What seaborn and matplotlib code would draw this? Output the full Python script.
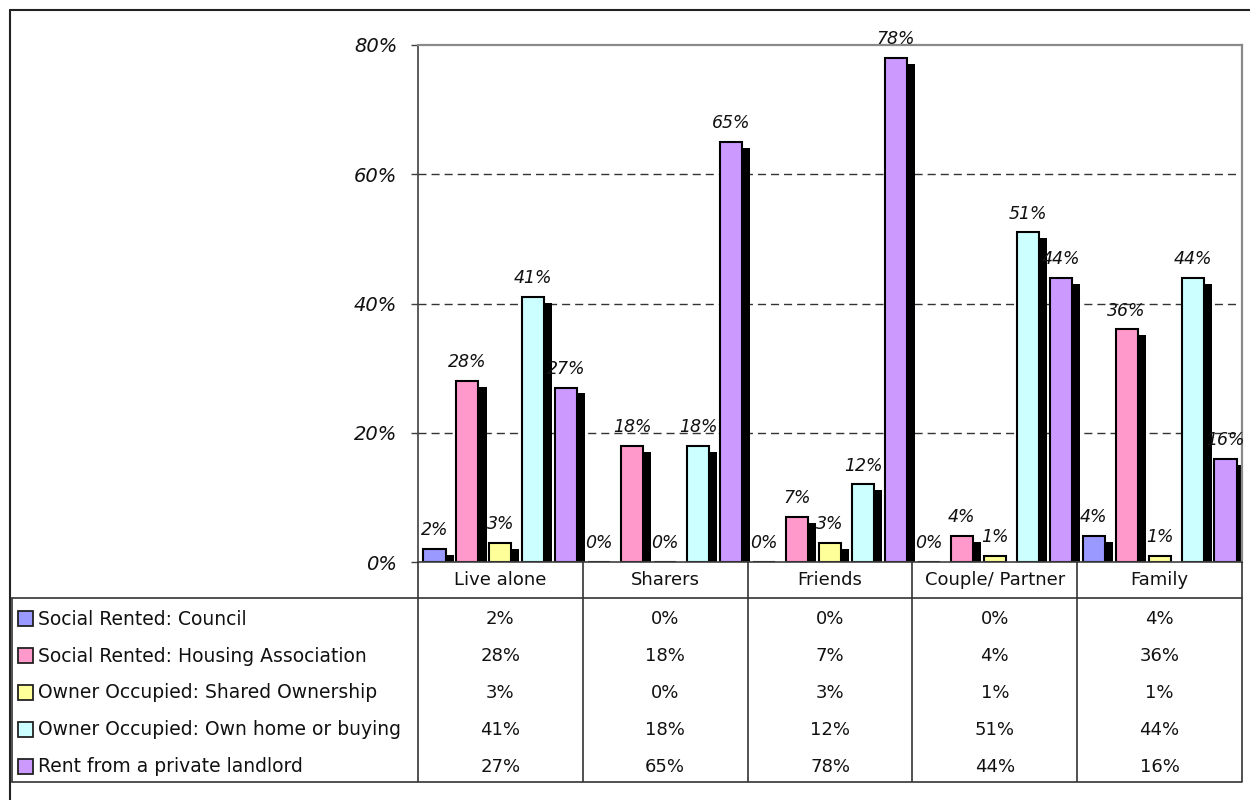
import matplotlib
matplotlib.use("Agg")
import matplotlib.pyplot as plt
import matplotlib.patheffects as pe
from matplotlib.patches import Rectangle
import pandas as pd
import seaborn as sns

# Household types along the x axis
groups = ["Live alone", "Sharers", "Friends", "Couple/ Partner", "Family"]

# Tenure series (percent of each household type)
tenures = [
    "Social Rented: Council",
    "Social Rented: Housing Association",
    "Owner Occupied: Shared Ownership",
    "Owner Occupied: Own home or buying",
    "Rent from a private landlord",
]
council = [2, 0, 0, 0, 4]
housing_assoc = [28, 18, 7, 4, 36]
shared_own = [3, 0, 3, 1, 1]
own_home = [41, 18, 12, 51, 44]
private_rent = [27, 65, 78, 44, 16]

tenure_colors = ["#9999FF", "#FF99CC", "#FFFF99", "#CCFFFF", "#CC99FF"]
y_ticks = [0, 20, 40, 60, 80]

series = [council, housing_assoc, shared_own, own_home, private_rent]
df = pd.DataFrame(
    [(g, t, v) for t, vals in zip(tenures, series) for g, v in zip(groups, vals)],
    columns=["group", "tenure", "pct"],
)

sns.set_theme(style="white")
plt.rcParams["font.family"] = ["DejaVu Sans"]

W, H = 1250, 800
fig = plt.figure(figsize=(W / 100, H / 100), dpi=100)
fig.patch.set_facecolor("white")


def px_rect(x0, y0, x1, y1):
    return [x0 / W, 1 - y1 / H, (x1 - x0) / W, (y1 - y0) / H]


PLOT_L, PLOT_T, PLOT_R, PLOT_B = 418, 45, 1242, 562
ax = fig.add_axes(px_rect(PLOT_L, PLOT_T, PLOT_R, PLOT_B))

sns.barplot(
    data=df, x="group", y="pct", hue="tenure",
    order=groups, hue_order=tenures, palette=tenure_colors,
    saturation=1, width=1.0, gap=0.33,
    edgecolor="black", linewidth=1.5,
    errorbar=None, legend=False, ax=ax,
)

# Drop shadows behind each bar
shadow = [pe.SimplePatchShadow(offset=(5.8, -4.3), shadow_rgbFace="black", alpha=1.0),
          pe.Normal()]
for p in ax.patches:
    p.set_path_effects(shadow)

# Value labels above the bars
for cont, vals in zip(ax.containers, series):
    ax.bar_label(cont, labels=[f"{v}%" for v in vals], padding=7,
                 fontsize=12.5, fontstyle="italic", color="#111111")

ax.set_xlim(-0.5, len(groups) - 0.5)
ax.set_ylim(y_ticks[0], y_ticks[-1])
ax.set_yticks(y_ticks)
ax.set_yticklabels([f"{t}%" for t in y_ticks], fontsize=14, fontstyle="italic", color="#111111")
ax.tick_params(axis="y", direction="out", length=5, width=1, color="#404040", pad=10, left=True)
ax.set_xticks([])
ax.set_xlabel("")
ax.set_ylabel("")

ax.set_axisbelow(True)
ax.yaxis.grid(True, linestyle=(0, (5.8, 3.6)), color="#333333", linewidth=1)
ax.xaxis.grid(False)

for side in ("top", "right"):
    ax.spines[side].set_color("#8a8a8a")
    ax.spines[side].set_linewidth(1.6)
for side in ("left", "bottom"):
    ax.spines[side].set_color("#404040")
    ax.spines[side].set_linewidth(1.2)
ax.spines["right"].set_visible(True)
ax.spines["top"].set_visible(True)

# Overlay in pixel coordinates for the data table and the chart frame
ov = fig.add_axes([0, 0, 1, 1], zorder=5)
ov.set_xlim(0, W)
ov.set_ylim(H, 0)
ov.axis("off")
ov.patch.set_alpha(0)

fig.canvas.draw()
# The gridlines at the axis limits sit under the plot border; hide them
gl = ax.yaxis.get_gridlines()
gl[0].set_visible(False)
gl[-1].set_visible(False)

to_px = lambda x: ax.transData.transform((x, 0))[0]
bounds = [to_px(i - 0.5) for i in range(len(groups) + 1)]
centers = [to_px(i) for i in range(len(groups))]

LINE = "#333333"
CAT_T, TAB_T, TAB_B, TAB_L = PLOT_B, 598, 782, 12
for bx in bounds:
    ov.plot([bx, bx], [CAT_T, TAB_B], color=LINE, lw=1.2, solid_capstyle="butt")
ov.plot([TAB_L, bounds[-1]], [TAB_T, TAB_T], color=LINE, lw=1.2)
ov.plot([TAB_L, bounds[-1]], [TAB_B, TAB_B], color=LINE, lw=1.2)
ov.plot([TAB_L, TAB_L], [TAB_T, TAB_B], color=LINE, lw=1.2)

for g, cx in zip(groups, centers):
    ov.text(cx, (CAT_T + TAB_T) / 2, g, ha="center", va="center", fontsize=13, color="#111111")

row_h = (TAB_B - TAB_T) / len(tenures)
for r, (name, vals, col) in enumerate(zip(tenures, series, tenure_colors)):
    yc = TAB_T + row_h * (r + 0.5) + 3
    ov.add_patch(Rectangle((18, yc - 8), 15, 15, facecolor=col, edgecolor="#222222", lw=1.3))
    ov.text(38, yc, name, ha="left", va="center", fontsize=13.5, color="#111111")
    for v, cx in zip(vals, centers):
        ov.text(cx, yc, f"{v}%", ha="center", va="center", fontsize=13, color="#111111")

# Outer chart frame
ov.plot([10, W], [10, 10], color="#222222", lw=1.5)
ov.plot([10, 10], [10, H], color="#222222", lw=1.5)

fig.savefig("out.png", dpi=100, facecolor="white")
